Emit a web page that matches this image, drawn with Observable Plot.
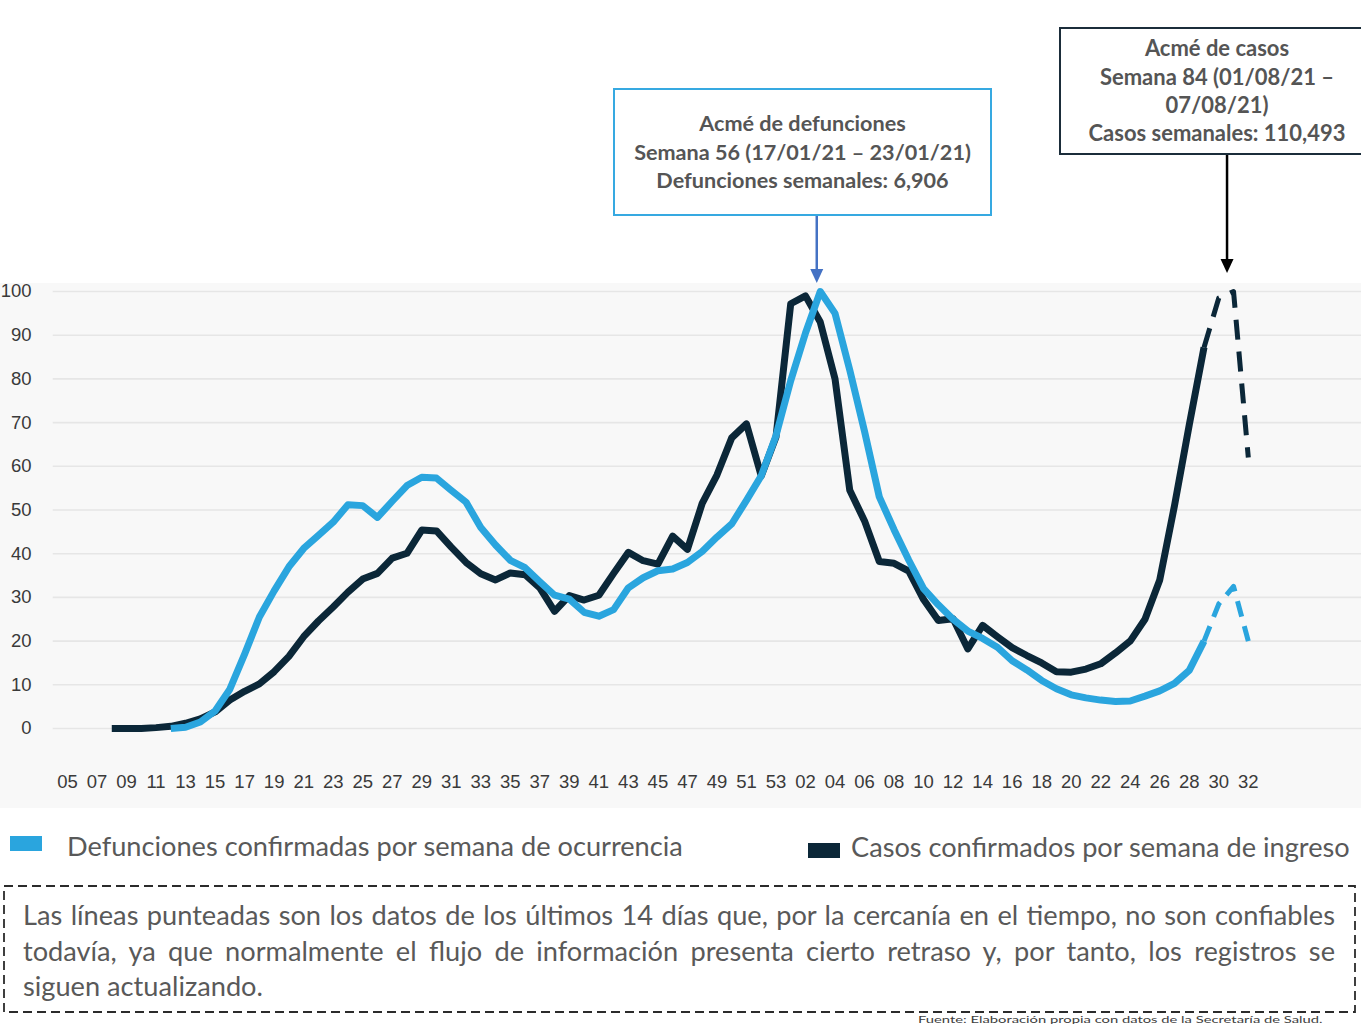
<!DOCTYPE html>
<html lang="es">
<head>
<meta charset="utf-8">
<script src="https://cdn.jsdelivr.net/npm/d3@7"></script>
<script src="https://cdn.jsdelivr.net/npm/@observablehq/plot@0.6"></script>
<style>
html, body { margin:0; padding:0; background:#fff; overflow:hidden; }
#root { position:relative; width:1361px; height:1024px; overflow:hidden; font-family: Lato, "Open Sans", sans-serif; color:#595959; }
#bg { position:absolute; left:0; top:283px; width:1361px; height:525px; background:#f8f8f8; }
#chart { position:absolute; left:0; top:0; }
#overlay { position:absolute; left:0; top:0; }
.box { position:absolute; box-sizing:border-box; background:#fff; display:flex; flex-direction:column; justify-content:center; align-items:center; font-weight:700; color:#555555; font-size:20px; }
.box .ln { line-height:28.4px; white-space:nowrap; }
.box .ln span { display:inline-block; }
.leg { position:absolute; white-space:nowrap; line-height:30px; font-size:24px; display:inline-block; }
.sw { position:absolute; }
#nota { position:absolute; left:23px; width:1312px; top:897px; color:#595959; font-size:24px; }
#nota .ln { display:block; white-space:nowrap; line-height:35.5px; }
#nota .j { text-align:justify; text-align-last:justify; white-space:normal; }
#nota span { display:inline-block; white-space:nowrap; }
#fuente { position:absolute; left:918px; top:1013.5px; font-size:15px; line-height:15px; white-space:nowrap; color:#404040; display:inline-block; transform-origin:0 0; }
</style>
</head>
<body>
<div id="root">
  <div id="bg"></div>
  <div id="chart"></div>
  <svg id="overlay" width="1361" height="1024"></svg>
</div>
<script>
// ---------- DATA ----------
const semanas = [
  "05","06","07","08","09","10","11","12","13","14","15","16","17","18","19","20",
  "21","22","23","24","25","26","27","28","29","30","31","32","33","34","35","36",
  "37","38","39","40","41","42","43","44","45","46","47","48","49","50","51","52","53",
  "01","02","03","04","05","06","07","08","09","10","11","12","13","14","15","16",
  "17","18","19","20","21","22","23","24","25","26","27","28","29","30","31","32"
];
// Defunciones confirmadas por semana de ocurrencia (% del acmé)
const defunciones = [
  null,null,null,null,null,null,null,0,0.3,1.5,4,9,17,25.5,31.5,37,
  41.2,44.2,47.2,51.2,51,48.3,52,55.6,57.5,57.3,54.5,51.8,46,42,38.5,36.8,
  33.6,30.5,29.6,26.6,25.7,27.2,32.2,34.5,36.1,36.5,38,40.5,43.8,46.8,52.2,57.8,67,
  79.6,90.5,100,95,82,68,53,45.5,38.5,32,28.3,25,22.3,20.6,18.6,15.5,
  13.4,11,9.1,7.7,7,6.5,6.2,6.3,7.4,8.6,10.3,13.3,20,28.5,32.5,20
];
// Casos confirmados por semana de ingreso (% del acmé)
const casos = [
  null,null,null,0,0,0,0.2,0.5,1.2,2.2,3.8,6.5,8.5,10.2,13,16.5,
  21,24.6,27.8,31.2,34.2,35.5,39,40.1,45.4,45.2,41.5,38,35.4,34,35.6,35.2,
  32.2,26.8,30.4,29.4,30.5,35.5,40.3,38.4,37.6,44,41,51.5,58,66.5,69.7,57.8,66.7,
  97.2,99,93,80,54.5,47.5,38.2,37.8,36,29.5,24.7,25.1,18.2,23.6,21,18.5,
  16.7,15,13,12.9,13.6,14.8,17.3,20,25,34,51,69.5,87.2,98.5,100,62
];
const semanasPreliminares = 3;           // tramos punteados (últimos 14 días)
const yTicks = [0,10,20,30,40,50,60,70,80,90,100];
const anotDefunciones = ["Acmé de defunciones", "Semana 56 (17/01/21 – 23/01/21)", "Defunciones semanales: 6,906"];
const anotCasos = ["Acmé de casos", "Semana 84 (01/08/21 –", "07/08/21)", "Casos semanales: 110,493"];
const leyenda = ["Defunciones confirmadas por semana de ocurrencia", "Casos confirmados por semana de ingreso"];
const nota = [
  "Las líneas punteadas son los datos de los últimos 14 días que, por la cercanía en el tiempo, no son confiables",
  "todavía, ya que normalmente el flujo de información presenta cierto retraso y, por tanto, los registros se",
  "siguen actualizando."
];
const fuente = "Fuente: Elaboración propia con datos de la Secretaría de Salud.";

// ---------- STYLE ----------
const AZUL = "#2aa5de";
const OSCURO = "#0b2738";

// ---------- BUILD ----------
const filas = semanas.map((s, i) => ({i, semana: s, def: defunciones[i], cas: casos[i]}));
const nUlt = semanas.length - 1;
const iCorte = nUlt - semanasPreliminares;
const firmes = filas.filter(d => d.i <= iCorte);
const prelim = filas.filter(d => d.i >= iCorte);
const xTicks = d3.range(0, semanas.length, 2);

const chart = Plot.plot({
  width: 1361,
  height: 808,
  marginTop: 291,
  marginBottom: 80,
  marginLeft: 67,
  marginRight: 113.2,
  style: {background: "transparent", overflow: "visible", fontFamily: "'Liberation Sans', Arial, sans-serif", fontSize: "18.5px", color: "#3a3a3a"},
  x: {domain: [0, nUlt], label: null},
  y: {domain: [0, 100], label: null},
  marks: [
    Plot.ruleY(yTicks, {stroke: "#e6e6e6", strokeWidth: 1.6, insetLeft: -14.3, insetRight: -113.2}),
    Plot.axisY({ticks: yTicks, tickSize: 0, tickPadding: 36, label: null}),
    Plot.axisX({ticks: xTicks, tickFormat: i => semanas[i], tickSize: 0, tickPadding: 46, label: null}),
    Plot.line(firmes.filter(d => d.cas != null), {x: "i", y: "cas", stroke: OSCURO, strokeWidth: 7, strokeLinecap: "butt", strokeLinejoin: "round"}),
    Plot.line(prelim, {x: "i", y: "cas", stroke: OSCURO, strokeWidth: 5, strokeLinecap: "butt", strokeDasharray: "20,12"}),
    Plot.line(firmes.filter(d => d.def != null), {x: "i", y: "def", stroke: AZUL, strokeWidth: 7, strokeLinecap: "butt", strokeLinejoin: "round"}),
    Plot.line(prelim, {x: "i", y: "def", stroke: AZUL, strokeWidth: 5, strokeLinecap: "butt", strokeDasharray: "16,10"})
  ]
});
document.getElementById("chart").appendChild(chart);

const sx = chart.scale("x");
const sy = chart.scale("y");
const root = document.getElementById("root");

function fit(el, target) {
  const w = el.getBoundingClientRect().width;
  const f = parseFloat(getComputedStyle(el).fontSize);
  return f * target / w;
}

// ---------- ANNOTATION BOXES ----------
function caja(lineas, cfg) {
  const b = document.createElement("div");
  b.className = "box";
  Object.assign(b.style, {left: cfg.left + "px", top: cfg.top + "px", width: cfg.width + "px", height: cfg.height + "px", border: `2.5px solid ${cfg.color}`});
  const spans = lineas.map(t => {
    const l = document.createElement("div"); l.className = "ln";
    const s = document.createElement("span"); s.textContent = t;
    l.appendChild(s); b.appendChild(l); return s;
  });
  root.appendChild(b);
  b.style.fontSize = fit(spans[cfg.refLine], cfg.refWidth) + "px";
  return b;
}
caja(anotDefunciones, {left: 613, top: 88, width: 379, height: 128, color: "#36a9e1", refLine: 1, refWidth: 337});
caja(anotCasos, {left: 1059, top: 27, width: 316, height: 128, color: "#1b2d3a", refLine: 3, refWidth: 257});

// ---------- ARROWS ----------
const ov = d3.select("#overlay");
function flecha(x, yIni, yFin, color) {
  ov.append("line").attr("x1", x).attr("x2", x).attr("y1", yIni).attr("y2", yFin - 12)
    .attr("stroke", color).attr("stroke-width", 2.5);
  ov.append("path").attr("d", `M${x - 6.5},${yFin - 14}L${x + 6.5},${yFin - 14}L${x},${yFin}Z`).attr("fill", color);
}
const iPicoDef = d3.maxIndex(defunciones);
const iPicoCas = d3.maxIndex(casos);
flecha(sx.apply(iPicoDef) - 3, 216, sy.apply(100) - 8, "#4472c4");
flecha(sx.apply(iPicoCas) - 6, 154, sy.apply(100) - 18, "#000000");

// ---------- LEGEND ----------
function swatch(x, y, w, h, color) {
  const d = document.createElement("div"); d.className = "sw";
  Object.assign(d.style, {left: x + "px", top: y + "px", width: w + "px", height: h + "px", background: color});
  root.appendChild(d);
}
function legTexto(t, x, yc, ancho) {
  const s = document.createElement("span"); s.className = "leg"; s.textContent = t;
  s.style.left = x + "px"; s.style.top = (yc - 15) + "px";
  root.appendChild(s);
  s.style.fontSize = fit(s, ancho) + "px";
}
swatch(10, 836, 32, 15, AZUL);
legTexto(leyenda[0], 67, 846, 616);
swatch(808, 843, 32, 15, OSCURO);
legTexto(leyenda[1], 851, 847, 499);

// ---------- NOTE BOX ----------
ov.append("rect").attr("x", 4).attr("y", 886).attr("width", 1351).attr("height", 126)
  .attr("fill", "none").attr("stroke", "#2b2b2b").attr("stroke-width", 1.8).attr("stroke-dasharray", "9,5");
const n = document.createElement("div"); n.id = "nota";
nota.forEach((t, k) => {
  const l = document.createElement("div");
  l.className = "ln" + (k < nota.length - 1 ? " j" : "");
  if (k === nota.length - 1) { const s = document.createElement("span"); s.textContent = t; l.appendChild(s); }
  else l.textContent = t;
  n.appendChild(l);
});
root.appendChild(n);
n.style.fontSize = fit(n.querySelector("span"), 240) + "px";

// source line: kept fully visible in the strip below the note box
const f = document.createElement("span"); f.id = "fuente"; f.textContent = fuente;
root.appendChild(f);
f.style.fontSize = fit(f, 405) + "px";
f.style.transform = "scaleY(0.66)";
</script>
</body>
</html>
